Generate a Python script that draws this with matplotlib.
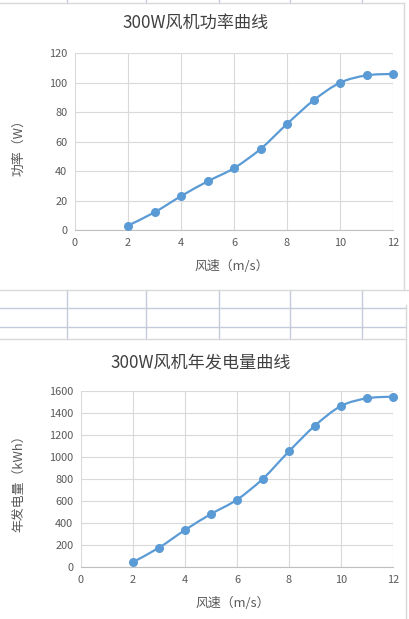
import matplotlib
matplotlib.use("Agg")
import matplotlib.pyplot as plt
from matplotlib.path import Path
from matplotlib.patches import PathPatch
from matplotlib.lines import Line2D
import numpy as np

plt.rcParams['font.family'] = ['Noto Sans CJK SC', 'DejaVu Sans']

# ---- data ----
wind_speed = [2, 3, 4, 5, 6, 7, 8, 9, 10, 11, 12]
power_w = [3, 12, 23, 33, 42, 55, 72, 88, 100, 105, 106]
annual_kwh = [45, 175, 336, 481, 611, 802, 1050, 1283, 1461, 1531, 1546]

title_power = "300W风机功率曲线"
title_energy = "300W风机年发电量曲线"
xlabel = "风速（m/s）"
ylabel_power = "功率（W）"
ylabel_energy = "年发电量（kWh）"
x_ticks = [0, 2, 4, 6, 8, 10, 12]
power_ticks = [0, 20, 40, 60, 80, 100, 120]
energy_ticks = [0, 200, 400, 600, 800, 1000, 1200, 1400, 1600]

LINE = '#5b9bd5'
GRID = '#d9d9d9'
TXT = '#595959'
CELL = '#c6cbdb'

W, H = 409, 619
fig = plt.figure(figsize=(W / 100, H / 100), dpi=100)


def smooth_path(xs, ys):
    pts = np.column_stack([xs, ys]).astype(float)
    n = len(pts)
    verts = [pts[0]]
    codes = [Path.MOVETO]
    for i in range(n - 1):
        p0 = pts[i - 1] if i > 0 else pts[i]
        p1 = pts[i]
        p2 = pts[i + 1]
        p3 = pts[i + 2] if i + 2 < n else pts[i + 1]
        c1 = p1 + (p2 - p0) / 6.0
        c2 = p2 - (p3 - p1) / 6.0
        verts += [c1, c2, p2]
        codes += [Path.CURVE4] * 3
    return Path(verts, codes)


def make_axes(rect, ys, yticks, ymax, title, ylabel, title_xy, xlabel_xy, ylabel_xy):
    ax = fig.add_axes(rect)
    ax.set_xlim(0, 12)
    ax.set_ylim(0, ymax)
    ax.set_xticks(x_ticks)
    ax.set_yticks(yticks)
    ax.grid(True, color=GRID, linewidth=0.8)
    ax.set_axisbelow(True)
    for s in ['top', 'right', 'left']:
        ax.spines[s].set_visible(False)
    ax.spines['bottom'].set_color('#bfbfbf')
    ax.spines['bottom'].set_linewidth(0.8)
    ax.tick_params(length=0, labelsize=7.9, colors=TXT)
    ax.tick_params(axis='y', pad=5.5)
    ax.tick_params(axis='x', pad=6)
    patch = PathPatch(smooth_path(wind_speed, ys), facecolor='none', edgecolor=LINE,
                      linewidth=1.6, transform=ax.transData, clip_on=False, zorder=3)
    ax.add_patch(patch)
    ax.plot(wind_speed, ys, linestyle='none', marker='o', markersize=5.5,
            color=LINE, zorder=4, clip_on=False)
    fig.text(title_xy[0] / W, 1 - title_xy[1] / H, title, fontsize=12.3, color='#404040',
             ha='center', va='center')
    fig.text(xlabel_xy[0] / W, 1 - xlabel_xy[1] / H, xlabel, fontsize=9.3, color=TXT,
             ha='center', va='center')
    fig.text(ylabel_xy[0] / W, 1 - ylabel_xy[1] / H, ylabel, fontsize=9.3, color=TXT,
             ha='center', va='center', rotation=90)
    return ax


make_axes([75 / W, 1 - 230 / H, (393 - 75) / W, (230 - 53.3) / H],
          power_w, power_ticks, 120, title_power, ylabel_power,
          (196, 23), (232, 266), (19, 145))
make_axes([81 / W, 1 - 567 / H, (393 - 81) / W, (567 - 390.7) / H],
          annual_kwh, energy_ticks, 1600, title_energy, ylabel_energy,
          (201, 362), (233, 603), (19, 480))


def pline(x0, y0, x1, y1, color, lw=1.0):
    fig.add_artist(Line2D([x0 / W, x1 / W], [1 - y0 / H, 1 - y1 / H],
                          color=color, linewidth=lw, transform=fig.transFigure))


# chart frames and worksheet cell lines
for cx in [67, 146, 219, 290, 362]:
    pline(cx, 0, cx, 2.5, CELL)
    pline(cx, 290, cx, 339, CELL)
pline(0, 2.5, 404, 2.5, GRID)
pline(404, 2.5, 404, 290, GRID)
pline(0, 290, 409, 290, GRID)
pline(0, 308, 406, 308, CELL)
pline(0, 327, 406, 327, CELL)
pline(0, 339, 406, 339, GRID)
pline(406, 305, 406, 619, GRID)

fig.savefig('out.png', dpi=100)
